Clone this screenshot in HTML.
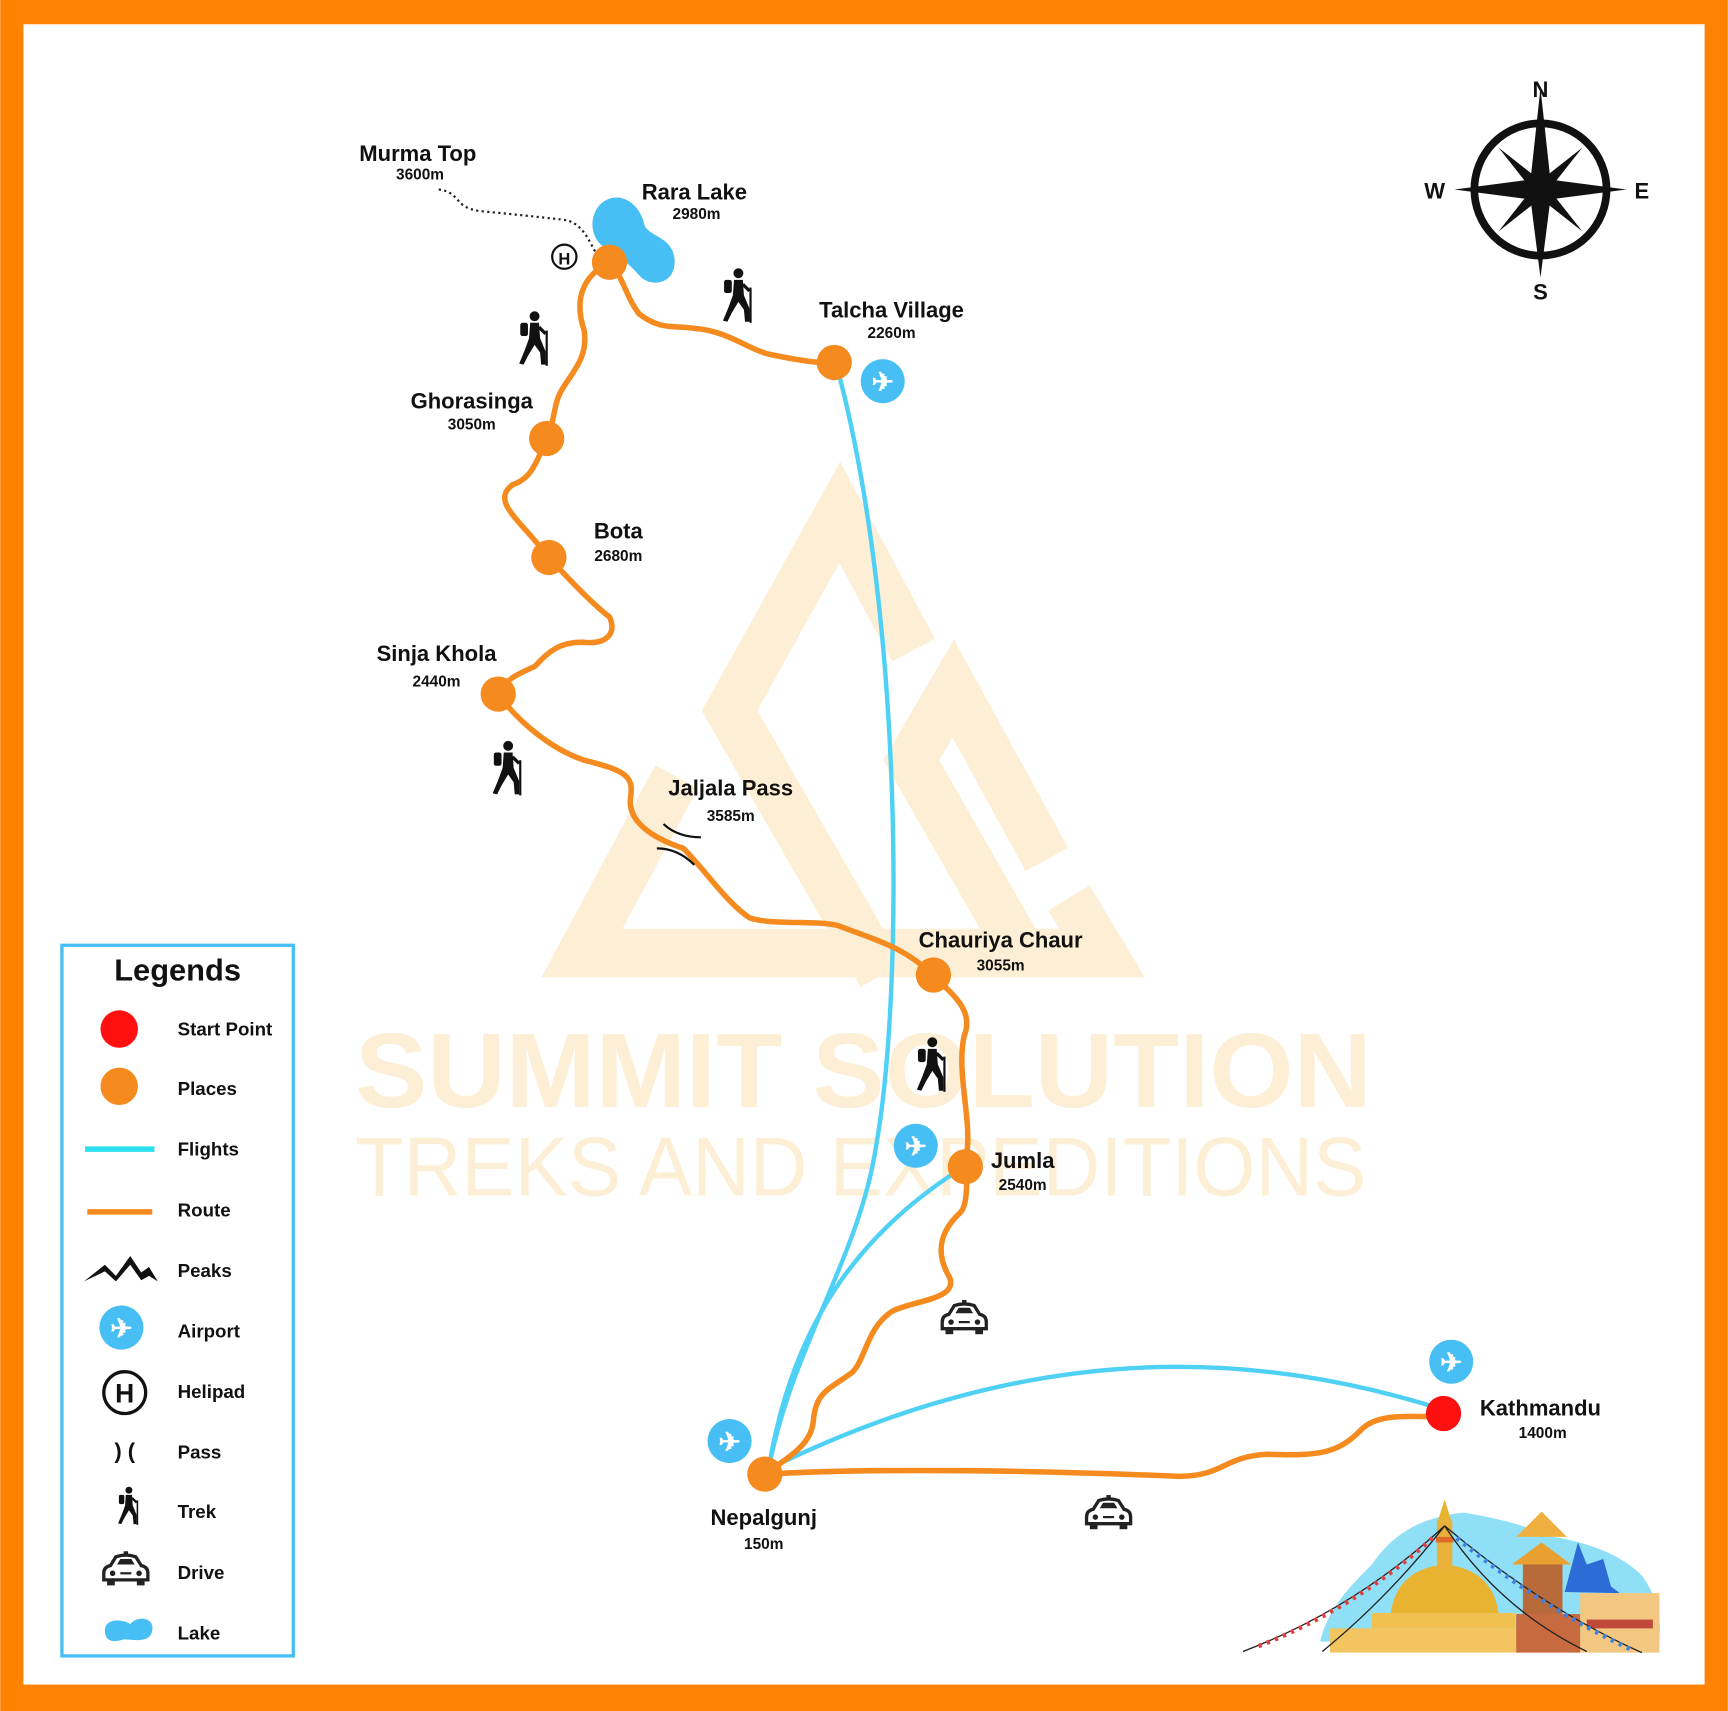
<!DOCTYPE html>
<html><head><meta charset="utf-8"><style>
html,body{margin:0;padding:0;background:#fff}
svg{display:block}
text{font-family:"Liberation Sans",sans-serif;font-weight:bold;fill:#111}
</style></head><body>
<svg width="1728" height="1711" viewBox="0 0 1568 1553" xmlns="http://www.w3.org/2000/svg">
<defs>
<g id="hk">
<circle cx="4" cy="-22" r="4.5" fill="#111"/>
<rect x="-9" y="-16" width="7" height="12" rx="2" fill="#111"/>
<path d="M0,-16 L8,-16 L9,-2 L14,10 L14,22 L10,22 L9,11 L4,4 L-2,14 L-6,22 L-10,21 L-5,9 L-1,-2 Z" fill="#111"/>
<path d="M8,-12 L14,-6" stroke="#111" stroke-width="3"/>
<line x1="15" y1="-9" x2="15" y2="23" stroke="#111" stroke-width="2"/>
</g>
<g id="car">
<path d="M-14,-4 L-9,-12 Q0,-15 9,-12 L14,-4 Q20,-3 20,3 L20,9 L-20,9 L-20,3 Q-20,-3 -14,-4 Z" fill="none" stroke="#222" stroke-width="3"/>
<path d="M-8,-5 L-5,-10 L5,-10 L8,-5 Z" fill="#222"/>
<circle cx="-12" cy="3" r="2.5" fill="#222"/><circle cx="12" cy="3" r="2.5" fill="#222"/>
<line x1="-5" y1="3" x2="5" y2="3" stroke="#222" stroke-width="2"/>
<rect x="-17" y="9" width="7" height="5" fill="#222"/><rect x="10" y="9" width="7" height="5" fill="#222"/>
<rect x="-2" y="-17" width="4" height="3" fill="#222"/>
</g>
</defs>
<rect x="0" y="0" width="1568" height="1553" fill="#ff8200"/>
<rect x="21" y="22" width="1526" height="1507" fill="#fff"/>

<!-- watermark -->
<g fill="none" stroke="#fdefd6" stroke-width="44" stroke-linejoin="miter">
<path d="M829,590 L762,465 L662,645 L800,885"/>
<path d="M950,780 L865,625 L827,690 L930,870"/>
<path d="M614,705 L528,865 L1000,865 L970,815"/>
</g>
<text x="322" y="1005" font-size="96" textLength="923" lengthAdjust="spacingAndGlyphs" style="fill:#fdefd6">SUMMIT SOLUTION</text>
<text x="322" y="1085" font-size="76" textLength="918" lengthAdjust="spacingAndGlyphs" style="fill:#fdefd6;font-weight:normal">TREKS AND EXPEDITIONS</text>

<!-- dotted Murma -->
<path d="M398,172 C420,175 410,190 440,192 C470,195 500,198 515,200 C530,205 535,220 542,232" fill="none" stroke="#222" stroke-width="2" stroke-dasharray="2,3"/>

<!-- lake -->
<path d="M545,185 C560,172 580,182 585,205 C590,215 610,215 612,235 C614,258 590,262 580,250 C570,238 555,228 545,222 C535,212 535,195 545,185 Z" fill="#47bff5"/>

<!-- flights -->
<g fill="none" stroke="#4fd0f5" stroke-width="4">
<path d="M760,335 C820,560 820,900 795,1040 C780,1140 720,1220 698,1330"/>
<path d="M870,1062 C780,1120 720,1200 698,1330"/>
<path d="M1305,1278 C1150,1230 950,1210 700,1332"/>
</g>

<!-- route -->
<g fill="none" stroke="#f58a1e" stroke-width="5" stroke-linejoin="round" stroke-linecap="round">
<path d="M553,238 C530,250 520,270 530,300 C535,330 510,345 505,365 C500,385 500,395 496,398 C485,425 480,435 465,440 C445,455 470,470 498,506 C520,530 540,550 553,560 C560,575 550,585 530,583 C505,582 495,595 485,605 C470,612 460,615 452,630 C470,655 500,680 530,690 C570,700 575,705 572,725 C570,745 590,760 620,770 C640,790 660,820 680,833 C700,840 740,835 760,840 C800,855 820,860 847,885 C860,900 885,915 875,940 C868,970 880,1010 878,1040 C876,1060 880,1090 872,1100 C850,1120 850,1140 862,1160 C868,1180 830,1180 810,1190 C785,1205 785,1240 770,1248 C750,1262 740,1265 738,1290 C736,1310 720,1320 694,1338"/>
<path d="M553,238 C565,250 568,270 580,285 C600,300 610,295 630,298 C660,300 680,318 700,322 C730,328 745,330 757,329"/>
<path d="M694,1338 C800,1332 950,1335 1070,1340 C1110,1340 1110,1322 1150,1320 C1200,1322 1215,1318 1235,1298 C1250,1282 1280,1286 1310,1286"/>
</g>

<!-- pass marks -->
<path d="M602,748 Q615,760 636,760 M596,770 Q615,770 630,785" fill="none" stroke="#111" stroke-width="2"/>

<!-- nodes -->
<g fill="#f58a1e">
<circle cx="553" cy="238" r="16"/><circle cx="496" cy="398" r="16"/><circle cx="498" cy="506" r="16"/>
<circle cx="452" cy="630" r="16"/><circle cx="757" cy="329" r="16"/><circle cx="847" cy="885" r="16"/>
<circle cx="876" cy="1059" r="16"/><circle cx="694" cy="1338" r="16"/>
</g>
<circle cx="1310" cy="1283" r="16" fill="#ff1010"/>

<!-- helipad -->
<circle cx="512" cy="233" r="11" fill="#fff" stroke="#111" stroke-width="2"/>
<text x="512" y="240" text-anchor="middle" font-size="15">H</text>

<!-- airports -->
<g font-size="24" text-anchor="middle">
<circle cx="801" cy="346" r="20" fill="#47bff5"/><text x="801" y="355" style="fill:#fff">✈</text>
<circle cx="831" cy="1040" r="20" fill="#47bff5"/><text x="831" y="1049" style="fill:#fff">✈</text>
<circle cx="662" cy="1308" r="20" fill="#47bff5"/><text x="662" y="1317" style="fill:#fff">✈</text>
<circle cx="1317" cy="1236" r="20" fill="#47bff5"/><text x="1317" y="1245" style="fill:#fff">✈</text>
</g>

<!-- trekkers -->
<use href="#hk" x="481" y="309"/>
<use href="#hk" x="666" y="270"/>
<use href="#hk" x="457" y="699"/>
<use href="#hk" x="842" y="968"/>
<!-- cars -->
<use href="#car" x="875" y="1197"/>
<use href="#car" x="1006" y="1374"/>

<!-- labels -->
<g font-size="20">
<text x="379" y="146" text-anchor="middle">Murma Top</text>
<text x="630" y="181" text-anchor="middle">Rara Lake</text>
<text x="809" y="288" text-anchor="middle">Talcha Village</text>
<text x="428" y="371" text-anchor="middle">Ghorasinga</text>
<text x="561" y="489" text-anchor="middle">Bota</text>
<text x="396" y="600" text-anchor="middle">Sinja Khola</text>
<text x="663" y="722" text-anchor="middle">Jaljala Pass</text>
<text x="908" y="860" text-anchor="middle">Chauriya Chaur</text>
<text x="928" y="1060" text-anchor="middle">Jumla</text>
<text x="1398" y="1285" text-anchor="middle">Kathmandu</text>
<text x="693" y="1384" text-anchor="middle">Nepalgunj</text>
</g>
<g font-size="14">
<text x="381" y="163" text-anchor="middle">3600m</text>
<text x="632" y="199" text-anchor="middle">2980m</text>
<text x="809" y="307" text-anchor="middle">2260m</text>
<text x="428" y="390" text-anchor="middle">3050m</text>
<text x="561" y="509" text-anchor="middle">2680m</text>
<text x="396" y="623" text-anchor="middle">2440m</text>
<text x="663" y="745" text-anchor="middle">3585m</text>
<text x="908" y="881" text-anchor="middle">3055m</text>
<text x="928" y="1080" text-anchor="middle">2540m</text>
<text x="1400" y="1305" text-anchor="middle">1400m</text>
<text x="693" y="1406" text-anchor="middle">150m</text>
</g>

<!-- compass -->
<g transform="translate(1398,172)">
<circle r="60" fill="none" stroke="#111" stroke-width="7"/>
<polygon points="0,-92 9,-9 0,0 -9,-9" fill="#111"/>
<polygon points="0,80 9,9 0,0 -9,9" fill="#111"/>
<polygon points="78,0 9,-9 0,0 9,9" fill="#111"/>
<polygon points="-78,0 -9,-9 0,0 -9,9" fill="#111"/>
<polygon points="38,-38 8,0 0,0 0,-8" fill="#111"/>
<polygon points="-38,-38 -8,0 0,0 0,-8" fill="#111"/>
<polygon points="38,38 8,0 0,0 0,8" fill="#111"/>
<polygon points="-38,38 -8,0 0,0 0,8" fill="#111"/>
<text x="0" y="-84" text-anchor="middle" font-size="20">N</text>
<text x="0" y="100" text-anchor="middle" font-size="20">S</text>
<text x="92" y="8" text-anchor="middle" font-size="20">E</text>
<text x="-96" y="8" text-anchor="middle" font-size="20">W</text>
</g>

<!-- Kathmandu illustration -->
<path d="M1198,1490 C1205,1460 1225,1440 1245,1420 C1262,1395 1285,1378 1328,1373 C1360,1378 1385,1385 1410,1395 C1440,1400 1470,1410 1490,1430 C1505,1450 1509,1475 1505,1490 Z" fill="#8fe0f7"/>
<polygon points="1420,1445 1432,1400 1440,1420 1455,1415 1462,1440 1470,1446" fill="#2d6bd6"/>
<polygon points="1376,1395 1399,1372 1422,1395" fill="#f0b040"/>
<polygon points="1372,1420 1399,1400 1426,1420" fill="#e8a030"/>
<rect x="1382" y="1420" width="36" height="45" fill="#b86a3a"/>
<rect x="1434" y="1446" width="72" height="54" fill="#f2c880"/>
<rect x="1440" y="1470" width="60" height="8" fill="#c04a3a"/>
<path d="M1262,1464 Q1268,1424 1311,1420 Q1354,1424 1360,1464 Z" fill="#e7b330"/>
<rect x="1304" y="1380" width="14" height="45" fill="#eab13a"/>
<polygon points="1305,1380 1311,1361 1317,1380" fill="#e7b330"/>
<rect x="1303" y="1395" width="16" height="5" fill="#e06a2a"/>
<rect x="1245" y="1464" width="130" height="14" fill="#f0c050"/>
<rect x="1207" y="1478" width="206" height="22" fill="#f2c560"/>
<rect x="1376" y="1465" width="58" height="35" fill="#c86a40"/>
<g fill="none" stroke="#222" stroke-width="1.2">
<path d="M1311,1385 Q1230,1460 1128,1499"/>
<path d="M1311,1385 Q1260,1450 1200,1499"/>
<path d="M1311,1385 Q1360,1460 1440,1499"/>
<path d="M1311,1385 Q1400,1460 1490,1500"/>
</g>
<g stroke-width="4" stroke-dasharray="3,5" fill="none">
<path d="M1300,1396 Q1230,1460 1140,1495" stroke="#e04040"/>
<path d="M1322,1396 Q1400,1460 1480,1497" stroke="#4080e0"/>
</g>

<!-- legend -->
<rect x="56" y="858" width="210" height="645" fill="#fff" stroke="#47bff5" stroke-width="3"/>
<text x="161" y="890" text-anchor="middle" font-size="28">Legends</text>
<g font-size="17">
<circle cx="108" cy="934" r="17" fill="#ff1010"/><text x="161" y="940">Start Point</text>
<circle cx="108" cy="986" r="17" fill="#f58a1e"/><text x="161" y="994">Places</text>
<line x1="77" y1="1043" x2="140" y2="1043" stroke="#2de0f0" stroke-width="5"/><text x="161" y="1049">Flights</text>
<line x1="79" y1="1100" x2="138" y2="1100" stroke="#f58a1e" stroke-width="5"/><text x="161" y="1104">Route</text>
<path d="M76,1163 L95,1148 L105,1158 L118,1140 L128,1155 L135,1150 L143,1163 L135,1158 L128,1162 L118,1148 L105,1163 L95,1154 Z" fill="#111"/><text x="161" y="1159">Peaks</text>
<circle cx="110" cy="1205" r="20" fill="#47bff5"/><text x="110" y="1214" text-anchor="middle" font-size="24" style="fill:#fff">✈</text><text x="161" y="1214">Airport</text>
<circle cx="113" cy="1264" r="19" fill="#fff" stroke="#111" stroke-width="3"/><text x="113" y="1273" text-anchor="middle" font-size="24">H</text><text x="161" y="1269">Helipad</text>
<text x="113" y="1324" text-anchor="middle" font-size="20" font-weight="normal">) (</text><text x="161" y="1324">Pass</text>
<use href="#hk" transform="translate(114,1368) scale(0.7)"/><text x="161" y="1378">Trek</text>
<use href="#car" x="114" y="1425"/><text x="161" y="1433">Drive</text>
<path d="M95,1480 C95,1468 112,1470 118,1474 C125,1466 140,1468 138,1480 C136,1492 120,1488 112,1488 C100,1492 95,1488 95,1480 Z" fill="#47bff5"/><text x="161" y="1488">Lake</text>
</g>
</svg>
</body></html>
